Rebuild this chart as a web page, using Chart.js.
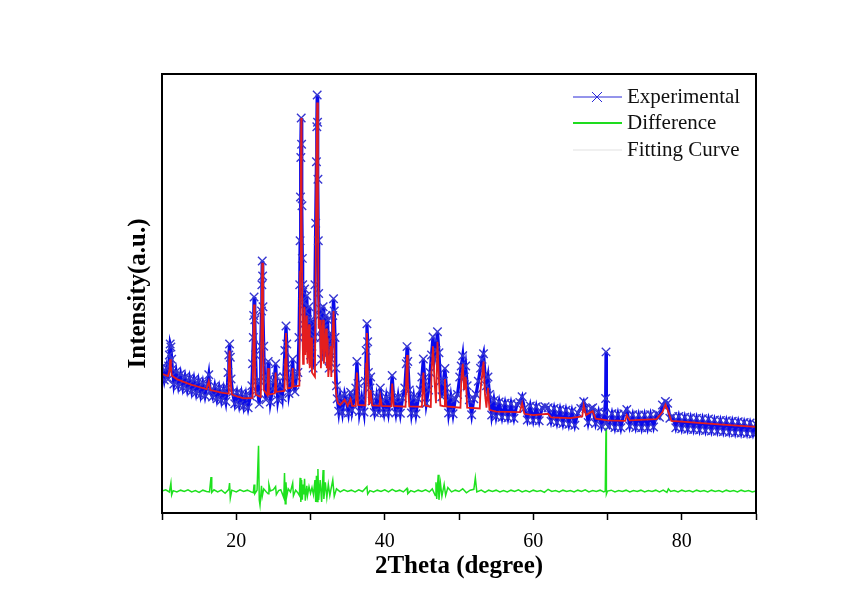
<!DOCTYPE html>
<html lang="en">
<head>
    <meta charset="UTF-8">
    <title>XRD Refinement</title>
    <script src="https://cdn.jsdelivr.net/npm/chart.js"></script>
    <style>
        body { margin: 0; background: #fff; }
        #wrap { width: 861px; height: 602px; }
    </style>
</head>
<body>
    <div id="wrap"><canvas id="chart" width="861" height="602"></canvas></div>
    <script>
        // Experimental pattern (2theta, intensity in a.u.)
        var expTheta = [
            10.0,10.3,10.6,10.8,10.9,11.0,11.1,11.2,11.3,11.4,
            11.6,11.9,12.2,12.5,12.8,13.1,13.4,13.7,14.0,14.3,
            14.6,14.9,15.2,15.5,15.8,16.1,16.3,16.5,16.8,17.1,
            17.4,17.7,18.0,18.3,18.6,18.8,18.9,19.0,19.1,19.2,
            19.3,19.5,19.8,20.1,20.4,20.7,21.0,21.3,21.6,21.9,
            22.1,22.2,22.3,22.35,22.4,22.5,22.6,22.7,22.9,23.1,
            23.2,23.3,23.4,23.45,23.5,23.55,23.6,23.7,23.8,24.0,
            24.2,24.3,24.4,24.6,24.9,25.1,25.3,25.4,25.6,25.9,
            26.2,26.4,26.55,26.7,26.8,26.9,27.1,27.4,27.6,27.7,
            27.9,28.1,28.3,28.45,28.55,28.6,28.65,28.7,28.75,28.8,
            28.85,28.9,28.95,29.0,29.1,29.2,29.3,29.4,29.5,29.6,
            29.7,29.8,29.9,30.0,30.1,30.2,30.35,30.5,30.6,30.7,
            30.8,30.85,30.9,30.95,31.0,31.05,31.1,31.2,31.3,31.4,
            31.5,31.6,31.7,31.8,31.9,32.0,32.1,32.2,32.3,32.4,
            32.5,32.6,32.7,32.8,32.9,33.0,33.1,33.2,33.3,33.4,
            33.5,33.6,33.8,34.0,34.3,34.6,34.8,35.1,35.4,35.6,
            35.9,36.1,36.25,36.4,36.6,36.9,37.2,37.4,37.5,37.6,
            37.7,37.8,38.0,38.1,38.3,38.6,38.9,39.2,39.4,39.6,
            39.9,40.2,40.5,40.8,41.0,41.2,41.5,41.8,42.1,42.4,
            42.7,42.9,43.0,43.1,43.3,43.6,43.9,44.2,44.5,44.8,
            45.0,45.2,45.4,45.6,45.9,46.1,46.3,46.5,46.7,46.9,
            47.1,47.3,47.5,47.7,47.9,48.1,48.3,48.6,48.9,49.2,
            49.5,49.8,50.1,50.3,50.5,50.7,50.9,51.1,51.4,51.7,
            52.0,52.3,52.6,52.9,53.1,53.3,53.5,53.7,53.9,54.1,
            54.4,54.7,55.0,55.4,55.8,56.2,56.6,57.0,57.4,57.8,
            58.2,58.5,58.8,59.2,59.6,60.0,60.4,60.8,61.2,61.6,
            62.0,62.4,62.8,63.2,63.6,64.0,64.4,64.8,65.2,65.6,
            66.0,66.4,66.8,67.1,67.4,67.8,68.0,68.4,68.8,69.2,
            69.6,69.75,69.8,69.85,70.2,70.6,71.0,71.4,71.8,72.2,
            72.6,73.0,73.4,73.8,74.2,74.6,75.0,75.4,75.8,76.2,
            76.6,77.0,77.4,77.8,78.1,78.4,78.8,79.2,79.6,80.0,
            80.4,80.8,81.2,81.6,82.0,82.4,82.8,83.2,83.6,84.0,
            84.4,84.8,85.2,85.6,86.0,86.4,86.8,87.2,87.6,88.0,
            88.4,88.8,89.2,89.6,90.0
        ];
        var expIntensity = [
            33.2,30.3,33.0,30.4,33.5,36.0,38.5,37.8,35.0,32.8,
            29.4,32.2,29.0,31.6,28.6,31.0,28.2,30.7,27.8,30.4,
            27.4,30.0,27.0,29.6,26.7,29.3,31.5,27.6,26.4,28.9,
            26.0,28.5,25.7,28.2,25.4,28.5,32.0,36.0,38.5,35.5,
            30.5,27.5,24.9,27.4,24.6,27.2,24.3,26.9,24.0,26.6,
            29.0,34.0,40.0,45.0,49.2,44.0,36.0,30.0,27.3,24.8,
            30.0,38.0,46.0,52.0,57.4,54.0,47.0,38.0,31.0,25.8,
            30.0,34.5,30.5,25.3,28.3,30.0,34.0,31.0,25.8,29.0,
            26.3,31.0,37.0,42.6,38.5,33.0,27.2,30.2,35.0,31.5,
            27.6,31.0,32.0,40.0,52.0,62.0,72.0,81.0,90.0,84.0,
            70.0,58.0,52.0,48.0,43.0,51.0,46.0,40.0,49.5,44.0,
            38.0,47.0,42.0,36.0,44.0,38.0,33.0,40.0,52.0,66.0,
            80.0,88.0,95.2,89.0,76.0,62.0,50.0,45.0,46.5,40.0,
            35.0,42.0,47.0,42.0,36.0,40.0,45.0,39.0,44.0,38.0,
            33.0,37.0,41.0,35.0,40.0,45.0,48.8,46.0,40.0,33.0,
            29.0,26.0,23.2,26.3,22.9,27.0,25.6,22.8,27.5,23.4,
            26.3,28.5,34.5,29.5,23.1,26.2,23.0,30.0,37.0,43.1,
            39.0,32.0,28.5,31.0,25.5,22.9,26.4,22.8,28.5,25.6,
            22.8,26.3,22.9,26.8,31.3,26.0,22.8,26.4,22.7,26.2,
            28.5,34.0,37.9,34.5,28.0,22.8,26.3,22.6,26.0,28.0,
            31.0,35.1,30.0,25.0,28.0,32.0,36.0,40.1,35.0,37.0,
            41.3,36.5,30.0,26.5,30.0,32.9,28.5,22.8,26.4,22.6,
            26.0,27.0,31.0,33.5,35.8,31.0,33.5,29.0,25.8,22.4,
            26.0,27.0,30.0,33.0,35.0,36.3,31.5,29.0,31.0,27.0,
            22.3,25.6,22.0,25.3,21.8,25.0,21.7,24.9,21.6,24.8,
            25.2,26.5,23.8,21.2,24.4,21.1,24.2,21.0,24.0,24.2,
            24.0,20.9,23.8,20.6,23.6,20.4,23.4,20.2,23.2,20.0,
            22.8,23.8,25.4,23.8,20.6,23.8,24.0,20.4,23.0,19.8,
            22.8,26.1,36.7,20.5,19.7,22.6,19.5,22.5,19.4,22.6,
            23.6,19.8,22.4,19.5,22.3,19.4,22.3,19.4,22.4,19.6,
            22.6,21.8,24.6,25.4,25.0,21.6,22.0,19.4,22.0,19.2,
            21.8,19.1,21.7,19.0,21.6,18.9,21.5,18.8,21.4,18.7,
            21.2,18.6,21.1,18.5,21.0,18.4,20.9,18.3,20.8,18.2,
            20.6,18.1,20.5,18.0,20.2
        ];

        // Calculated (fitting) curve
        var fitTheta = [
            10.0,10.8,11.0,11.1,11.2,11.3,12.0,13.0,14.0,15.0,
            16.0,16.3,16.5,17.0,18.0,18.9,19.0,19.1,19.2,19.4,
            20.0,21.0,22.2,22.3,22.4,22.5,22.6,23.3,23.4,23.5,
            23.6,23.7,24.2,24.3,24.4,25.2,25.3,25.4,26.5,26.6,
            26.7,26.8,26.9,27.5,27.6,27.7,28.5,28.6,28.7,28.75,
            28.8,28.9,29.0,29.1,29.2,29.3,29.5,29.6,29.8,29.9,
            30.1,30.2,30.6,30.7,30.8,30.9,31.0,31.1,31.3,31.4,
            31.7,31.8,32.1,32.2,32.3,32.4,32.7,32.8,33.0,33.1,
            33.2,33.3,33.5,33.7,34.0,34.6,35.0,35.4,35.6,36.1,
            36.25,36.4,37.4,37.5,37.6,37.7,37.9,38.1,38.3,39.3,
            39.4,39.6,40.9,41.0,41.2,42.8,42.9,43.0,43.1,43.3,
            45.0,45.2,45.4,46.2,46.3,46.5,46.7,46.9,47.1,47.3,
            47.5,48.0,48.1,48.3,50.2,50.3,50.5,50.7,50.9,51.1,
            52.8,52.9,53.3,53.5,53.7,53.9,54.1,55.0,58.2,58.5,
            58.8,60.0,62.0,62.4,65.0,66.6,66.8,67.1,68.0,68.4,
            70.0,72.4,72.6,73.0,76.6,77.4,77.8,78.1,78.6,80.0,
            85.0,90.0
        ];
        var fitIntensity = [
            31.7,31.2,32.5,35.0,33.5,31.3,30.5,29.8,29.2,28.7,
            28.2,30.0,28.0,27.8,27.4,27.2,33.0,37.0,31.0,27.0,
            26.6,26.1,26.2,38.0,47.5,36.0,27.0,26.4,45.0,57.0,
            44.0,28.0,26.8,33.0,27.0,27.2,32.0,27.6,27.8,35.0,
            41.0,34.0,28.4,28.6,33.0,28.8,29.0,55.0,78.0,90.0,
            70.0,45.0,34.0,38.0,47.0,36.0,45.0,34.0,43.0,33.0,
            40.0,32.0,31.0,55.0,80.0,93.5,70.0,42.0,44.0,33.0,
            44.0,34.0,42.0,33.0,40.0,31.0,38.0,31.0,42.0,46.0,
            40.0,30.0,26.5,25.0,24.6,25.8,24.4,26.0,24.4,24.4,
            32.0,24.6,24.5,34.0,41.0,33.0,24.6,28.0,24.5,24.4,
            26.5,24.4,24.3,29.5,24.4,24.2,31.0,36.0,30.0,24.3,
            24.2,32.0,24.5,24.2,32.0,38.0,30.0,25.0,39.0,30.0,
            24.5,24.3,30.5,24.3,24.0,30.0,34.0,28.0,31.0,24.0,
            23.8,28.0,34.5,27.0,24.0,28.5,23.5,23.1,23.0,25.0,
            22.6,22.3,22.6,21.8,21.6,22.0,24.5,22.3,23.2,21.5,
            21.1,21.0,22.3,21.1,21.4,23.0,24.7,23.5,21.0,20.8,
            20.2,19.6
        ];

        // Difference curve (offset below the pattern)
        var diffTheta = [
            10.0,10.5,11.0,11.2,11.3,11.5,12.0,12.5,13.0,13.5,
            14.0,14.5,15.0,15.5,16.0,16.4,16.6,16.7,17.0,17.5,
            18.0,18.5,19.0,19.1,19.2,19.4,20.0,20.5,21.0,21.5,
            22.0,22.3,22.4,22.5,22.8,23.0,23.1,23.2,23.4,23.5,
            23.7,24.0,24.3,24.4,24.6,25.0,25.3,25.4,25.7,26.0,
            26.4,26.5,26.6,26.7,26.8,27.0,27.3,27.6,27.7,28.0,
            28.3,28.5,28.6,28.7,28.8,28.9,29.0,29.1,29.2,29.3,
            29.5,29.6,29.8,30.0,30.2,30.4,30.6,30.7,30.8,30.9,
            31.0,31.1,31.3,31.5,31.7,31.8,32.0,32.2,32.4,32.6,
            32.8,33.0,33.2,33.5,34.0,34.5,35.0,35.5,36.0,36.5,
            37.0,37.6,37.7,38.0,38.5,39.0,39.5,40.0,40.5,41.0,
            41.5,42.0,42.5,43.0,43.1,43.5,44.0,44.5,45.0,45.5,
            46.0,46.4,46.8,46.9,47.0,47.2,47.3,47.5,47.7,48.0,
            48.2,48.5,49.0,49.5,50.0,50.5,51.0,51.5,52.0,52.2,
            52.4,53.0,53.5,54.0,54.5,55.0,55.5,56.0,56.5,57.0,
            57.5,58.0,58.5,59.0,59.5,60.0,60.5,61.0,61.5,62.0,
            62.5,63.0,63.5,64.0,64.5,65.0,65.5,66.0,66.5,67.0,
            67.5,68.0,68.5,69.0,69.5,69.7,69.8,69.85,70.0,70.5,
            71.0,71.5,72.0,72.5,73.0,73.5,74.0,74.5,75.0,75.5,
            76.0,76.5,77.0,77.5,78.0,78.2,78.5,79.0,79.5,80.0,
            80.5,81.0,81.5,82.0,82.5,83.0,83.5,84.0,84.5,85.0,
            85.5,86.0,86.5,87.0,87.5,88.0,88.5,89.0,89.5,90.0
        ];
        var diffIntensity = [
            5.0,5.3,4.8,6.8,4.1,5.1,4.8,5.2,4.9,5.3,
            4.8,5.1,4.7,5.2,4.9,4.8,8.2,4.7,5.3,4.8,
            5.2,4.5,5.4,6.8,3.4,5.2,4.8,5.3,4.9,5.2,
            4.8,4.6,6.5,4.4,5.2,15.3,3.0,1.8,6.2,3.8,
            5.5,4.9,4.4,6.5,5.0,5.3,6.0,4.2,5.1,5.3,
            3.5,9.1,2.1,7.0,3.8,5.5,4.8,6.8,3.9,5.2,
            4.6,4.0,8.0,2.5,7.5,3.0,6.5,4.2,7.8,2.8,
            6.2,4.0,6.0,4.5,5.8,4.2,7.5,2.5,8.5,2.6,
            10.0,3.0,7.5,2.5,9.8,3.2,7.0,3.5,6.5,4.0,
            5.8,7.5,3.8,5.5,4.8,5.3,4.9,5.2,4.8,5.3,
            4.9,6.0,4.3,5.1,4.8,5.2,4.9,5.3,4.8,5.4,
            4.9,5.2,4.8,5.6,4.4,5.1,4.8,5.2,4.9,5.3,
            4.8,5.5,4.0,7.0,3.2,8.7,3.0,6.8,3.8,6.5,
            4.0,5.8,4.8,5.2,4.9,5.5,4.6,5.2,5.4,8.0,
            4.8,5.2,4.7,5.2,4.9,5.2,4.8,5.1,4.8,5.2,
            4.9,5.3,4.8,5.1,4.8,5.2,4.9,5.1,4.7,5.4,
            4.9,5.1,4.8,5.2,4.9,5.1,4.8,5.2,4.9,5.3,
            4.8,5.1,4.9,5.2,4.8,5.0,19.4,4.3,5.0,5.2,
            4.8,5.1,4.9,5.2,4.8,5.1,4.9,5.2,4.8,5.1,
            4.9,5.2,4.8,5.2,4.7,5.5,4.9,5.1,4.8,5.2,
            4.9,5.1,4.8,5.2,4.9,5.1,4.8,5.2,4.9,5.1,
            4.8,5.2,4.9,5.1,4.8,5.2,4.9,5.1,4.8,5.0
        ];

        var xTicks = [20, 40, 60, 80];

        function toPoints(xs, ys) {
            return xs.map(function(x, i) { return { x: x, y: ys[i] }; });
        }

        var serif = "'Liberation Serif', 'Times New Roman', serif";

        // legend drawn by hand: line + cross marker like the original
        var legendPlugin = {
            id: 'xrdLegend',
            afterDraw: function(chart) {
                var ctx = chart.ctx;
                var rows = [
                    { text: 'Experimental', color: 'rgb(40,40,215)', width: 1, cross: true, y: 97 },
                    { text: 'Difference', color: 'rgb(30,220,30)', width: 2, cross: false, y: 123 },
                    { text: 'Fitting Curve', color: 'rgb(225,225,225)', width: 1, cross: false, y: 150 }
                ];
                ctx.save();
                rows.forEach(function(r) {
                    ctx.strokeStyle = r.color;
                    ctx.lineWidth = r.width;
                    ctx.beginPath();
                    ctx.moveTo(573, r.y);
                    ctx.lineTo(622, r.y);
                    ctx.stroke();
                    if (r.cross) {
                        ctx.beginPath();
                        ctx.moveTo(592, r.y - 5); ctx.lineTo(602, r.y + 5);
                        ctx.moveTo(602, r.y - 5); ctx.lineTo(592, r.y + 5);
                        ctx.stroke();
                    }
                    ctx.fillStyle = '#111';
                    ctx.font = '21px ' + serif;
                    ctx.textBaseline = 'middle';
                    ctx.fillText(r.text, 627, r.y);
                });
                // frame around plot area
                var a = chart.chartArea;
                ctx.strokeStyle = '#000';
                ctx.lineWidth = 2;
                ctx.strokeRect(a.left, a.top, a.right - a.left, a.bottom - a.top);
                ctx.restore();
            }
        };

        new Chart(document.getElementById('chart').getContext('2d'), {
            type: 'scatter',
            data: {
                datasets: [
                    {
                        label: 'Experimental',
                        data: toPoints(expTheta, expIntensity),
                        showLine: true,
                        borderColor: 'rgb(10,10,235)',
                        borderWidth: 3.2,
                        pointStyle: 'crossRot',
                        pointRadius: 6,
                        pointBorderColor: 'rgb(55,55,210)',
                        pointBorderWidth: 1.4,
                        order: 2
                    },
                    {
                        label: 'Difference',
                        data: toPoints(diffTheta, diffIntensity),
                        showLine: true,
                        borderColor: 'rgb(30,225,30)',
                        borderWidth: 1.5,
                        pointRadius: 0,
                        order: 3
                    },
                    {
                        label: 'Fitting Curve',
                        data: toPoints(fitTheta, fitIntensity),
                        showLine: true,
                        borderColor: 'rgb(228,30,30)',
                        borderWidth: 1.8,
                        pointRadius: 0,
                        order: 1
                    }
                ]
            },
            options: {
                responsive: false,
                animation: false,
                devicePixelRatio: 1,
                layout: { padding: { left: 0, right: 105, top: 74, bottom: 0 } },
                plugins: {
                    legend: { display: false },
                    tooltip: { enabled: false }
                },
                scales: {
                    x: {
                        type: 'linear',
                        min: 10,
                        max: 90,
                        ticks: {
                            stepSize: 10,
                            autoSkip: false,
                            maxRotation: 0,
                            color: '#000',
                            padding: 10,
                            font: { family: serif, size: 20 },
                            callback: function(v) { return xTicks.indexOf(v) >= 0 ? String(v) : ''; }
                        },
                        grid: { drawOnChartArea: false, tickLength: 7, tickColor: '#000', tickWidth: 1.5 },
                        border: { color: '#000', width: 2 },
                        title: {
                            display: true,
                            text: '2Theta (degree)',
                            color: '#000',
                            font: { family: serif, size: 25, weight: 'bold' },
                            padding: { top: 0, bottom: 20 }
                        },
                        afterFit: function(s) { s.height = 89; }
                    },
                    y: {
                        min: 0,
                        max: 100,
                        ticks: { display: false },
                        grid: { display: false },
                        border: { color: '#000', width: 2 },
                        title: {
                            display: true,
                            text: 'Intensity(a.u.)',
                            color: '#000',
                            font: { family: serif, size: 25, weight: 'bold' },
                            padding: { top: 124, bottom: 0 }
                        },
                        afterFit: function(s) { s.width = 162; }
                    }
                }
            },
            plugins: [legendPlugin]
        });
    </script>
</body>
</html>
